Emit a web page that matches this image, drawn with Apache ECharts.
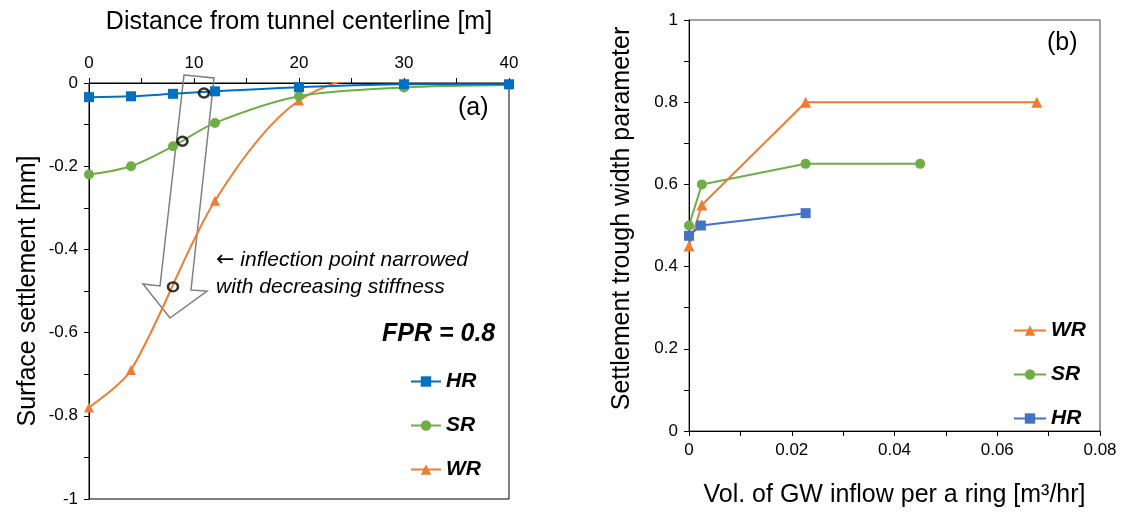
<!DOCTYPE html>
<html>
<head>
<meta charset="utf-8">
<script src="https://cdn.jsdelivr.net/npm/echarts@6/dist/echarts.min.js"></script>
<style>
  html, body { margin: 0; padding: 0; background: #fff; }
  #chart { width: 1124px; height: 513px; }
</style>
</head>
<body>
<div id="chart"></div>
<script>
// (a) settlement vs distance
const distX = [0, 4, 8, 12, 20, 30, 40];
const hrSettle = [-0.034, -0.032, -0.026, -0.02, -0.01, -0.003, -0.003];
const srSettle = [-0.22, -0.2, -0.152, -0.096, -0.032, -0.011, -0.005];
const wrDistX = [0, 4, 12, 20, 30, 40];
const wrSettle = [-0.78, -0.69, -0.283, -0.042, 0.03, 0.02];
// inflection points (HR, SR, WR)
const inflX = [10.95, 8.9, 8.0];
const inflY = [-0.024, -0.14, -0.49];

// (b) trough width vs inflow
const wrInflow = [0, 0.0025, 0.0227, 0.0677];
const wrWidth = [0.45, 0.55, 0.8, 0.8];
const srInflow = [0, 0.0025, 0.0227, 0.045];
const srWidth = [0.5, 0.6, 0.65, 0.65];
const hrInflow = [0, 0.0023, 0.0227];
const hrWidth = [0.475, 0.5, 0.53];

const FONT = '"Liberation Sans", Arial, sans-serif';
const zip = (xs, ys) => xs.map((x, i) => [x, ys[i]]);

const chart = echarts.init(document.getElementById('chart'));

const axisCommon = {
  axisLine: { show: true, onZero: false, lineStyle: { color: '#000', width: 1 } },
  axisTick: { show: true, inside: false, length: 5, lineStyle: { color: '#000' } },
  minorTick: { show: true, splitNumber: 2, length: 5, lineStyle: { color: '#000' } },
  splitLine: { show: false },
  axisLabel: { color: '#000', fontSize: 17, fontFamily: FONT, margin: 11 },
  nameTextStyle: { color: '#000', fontSize: 25, fontFamily: FONT },
  nameLocation: 'middle'
};

const legendText = { fontSize: 21, fontWeight: 'bold', fontStyle: 'italic', color: '#000', fontFamily: FONT };

chart.setOption({
  animation: false,
  grid: [
    { left: 89, top: 83, width: 420, height: 416, show: true, borderColor: '#000', borderWidth: 1 },
    { left: 689, top: 20, width: 411, height: 421, show: true, borderColor: '#404040', borderWidth: 1 }
  ],
  xAxis: [
    Object.assign({}, axisCommon, {
      gridIndex: 0, type: 'value', position: 'top', min: 0, max: 40, interval: 10,
      name: 'Distance from tunnel centerline [m]', nameGap: 48
    }),
    Object.assign({}, axisCommon, {
      gridIndex: 1, type: 'value', min: 0, max: 0.08, interval: 0.02,
      name: 'Vol. of GW inflow per a ring [m³/hr]', nameGap: 52
    })
  ],
  yAxis: [
    Object.assign({}, axisCommon, {
      gridIndex: 0, type: 'value', min: -1, max: 0, interval: 0.2,
      name: 'Surface settlement [mm]', nameGap: 48
    }),
    Object.assign({}, axisCommon, {
      gridIndex: 1, type: 'value', min: 0, max: 1, interval: 0.2,
      name: 'Settlement trough width parameter', nameGap: 54,
      nameTextStyle: { color: '#000', fontSize: 25, fontFamily: FONT, padding: [0, 0, 0, 14] }
    })
  ],
  legend: [
    {
      data: ['HR', 'SR', 'WR'], orient: 'vertical', left: 405, top: 366,
      itemWidth: 30, itemHeight: 13, itemGap: 23, textStyle: legendText
    },
    {
      data: ['WR_b', 'SR_b', 'HR_b'], orient: 'vertical', left: 1008, top: 315,
      itemWidth: 32, itemHeight: 13, itemGap: 23, textStyle: legendText,
      formatter: n => n.replace('_b', '')
    }
  ],
  series: [
    {
      name: 'HR', type: 'line', xAxisIndex: 0, yAxisIndex: 0, smooth: 0.3,
      data: zip(distX, hrSettle), symbol: 'rect', symbolSize: 10,
      itemStyle: { color: '#0070C0' }, lineStyle: { width: 2, color: '#0070C0' }, z: 4
    },
    {
      name: 'SR', type: 'line', xAxisIndex: 0, yAxisIndex: 0, smooth: 0.3,
      data: zip(distX, srSettle), symbol: 'circle', symbolSize: 10,
      itemStyle: { color: '#70AD47' }, lineStyle: { width: 2, color: '#70AD47' }, z: 3
    },
    {
      name: 'WR', type: 'line', xAxisIndex: 0, yAxisIndex: 0, smooth: 0.3, clip: true,
      data: zip(wrDistX, wrSettle), symbol: 'triangle', symbolSize: 10,
      itemStyle: { color: '#ED7D31' }, lineStyle: { width: 2, color: '#ED7D31' }, z: 2
    },
    {
      name: 'inflection', type: 'scatter', xAxisIndex: 0, yAxisIndex: 0,
      data: zip(inflX, inflY), symbol: 'circle', symbolSize: [10, 9],
      itemStyle: { color: 'rgba(0,0,0,0)', borderColor: '#000', borderWidth: 2.5 }, z: 6
    },
    {
      name: 'WR_b', type: 'line', xAxisIndex: 1, yAxisIndex: 1,
      data: zip(wrInflow, wrWidth), symbol: 'triangle', symbolSize: 11,
      itemStyle: { color: '#ED7D31' }, lineStyle: { width: 2, color: '#ED7D31' }, z: 3
    },
    {
      name: 'SR_b', type: 'line', xAxisIndex: 1, yAxisIndex: 1,
      data: zip(srInflow, srWidth), symbol: 'circle', symbolSize: 10,
      itemStyle: { color: '#70AD47' }, lineStyle: { width: 2, color: '#70AD47' }, z: 2
    },
    {
      name: 'HR_b', type: 'line', xAxisIndex: 1, yAxisIndex: 1,
      data: zip(hrInflow, hrWidth), symbol: 'rect', symbolSize: 10,
      itemStyle: { color: '#4472C4' }, lineStyle: { width: 2, color: '#4472C4' }, z: 4
    }
  ],
  graphic: [
    {
      type: 'polygon', z: 1,
      shape: { points: [[184, 75], [214, 78], [191, 290], [207, 291], [170, 318], [143, 284], [160, 286]] },
      style: { fill: 'none', stroke: '#7f7f7f', lineWidth: 1.5 }
    },
    {
      type: 'text', right: 1124 - 468, top: 247,
      style: {
        text: '{arr|←} inflection point narrowed\nwith decreasing stiffness', align: 'right',
        fontSize: 21, fontStyle: 'italic', fontFamily: FONT, fill: '#000', lineHeight: 27,
        rich: { arr: { fontFamily: '"DejaVu Sans"', fontSize: 22, fontStyle: 'normal', lineHeight: 27 } }
      }
    },
    {
      type: 'text', left: 458, top: 96,
      style: { text: '(a)', fontSize: 25, fontFamily: FONT, fill: '#000' }
    },
    {
      type: 'text', left: 1047, top: 31,
      style: { text: '(b)', fontSize: 25, fontFamily: FONT, fill: '#000' }
    },
    {
      type: 'text', left: 382, top: 322,
      style: { text: 'FPR = 0.8', fontSize: 25, fontWeight: 'bold', fontStyle: 'italic', fontFamily: FONT, fill: '#000' }
    }
  ]
});
</script>
</body>
</html>
